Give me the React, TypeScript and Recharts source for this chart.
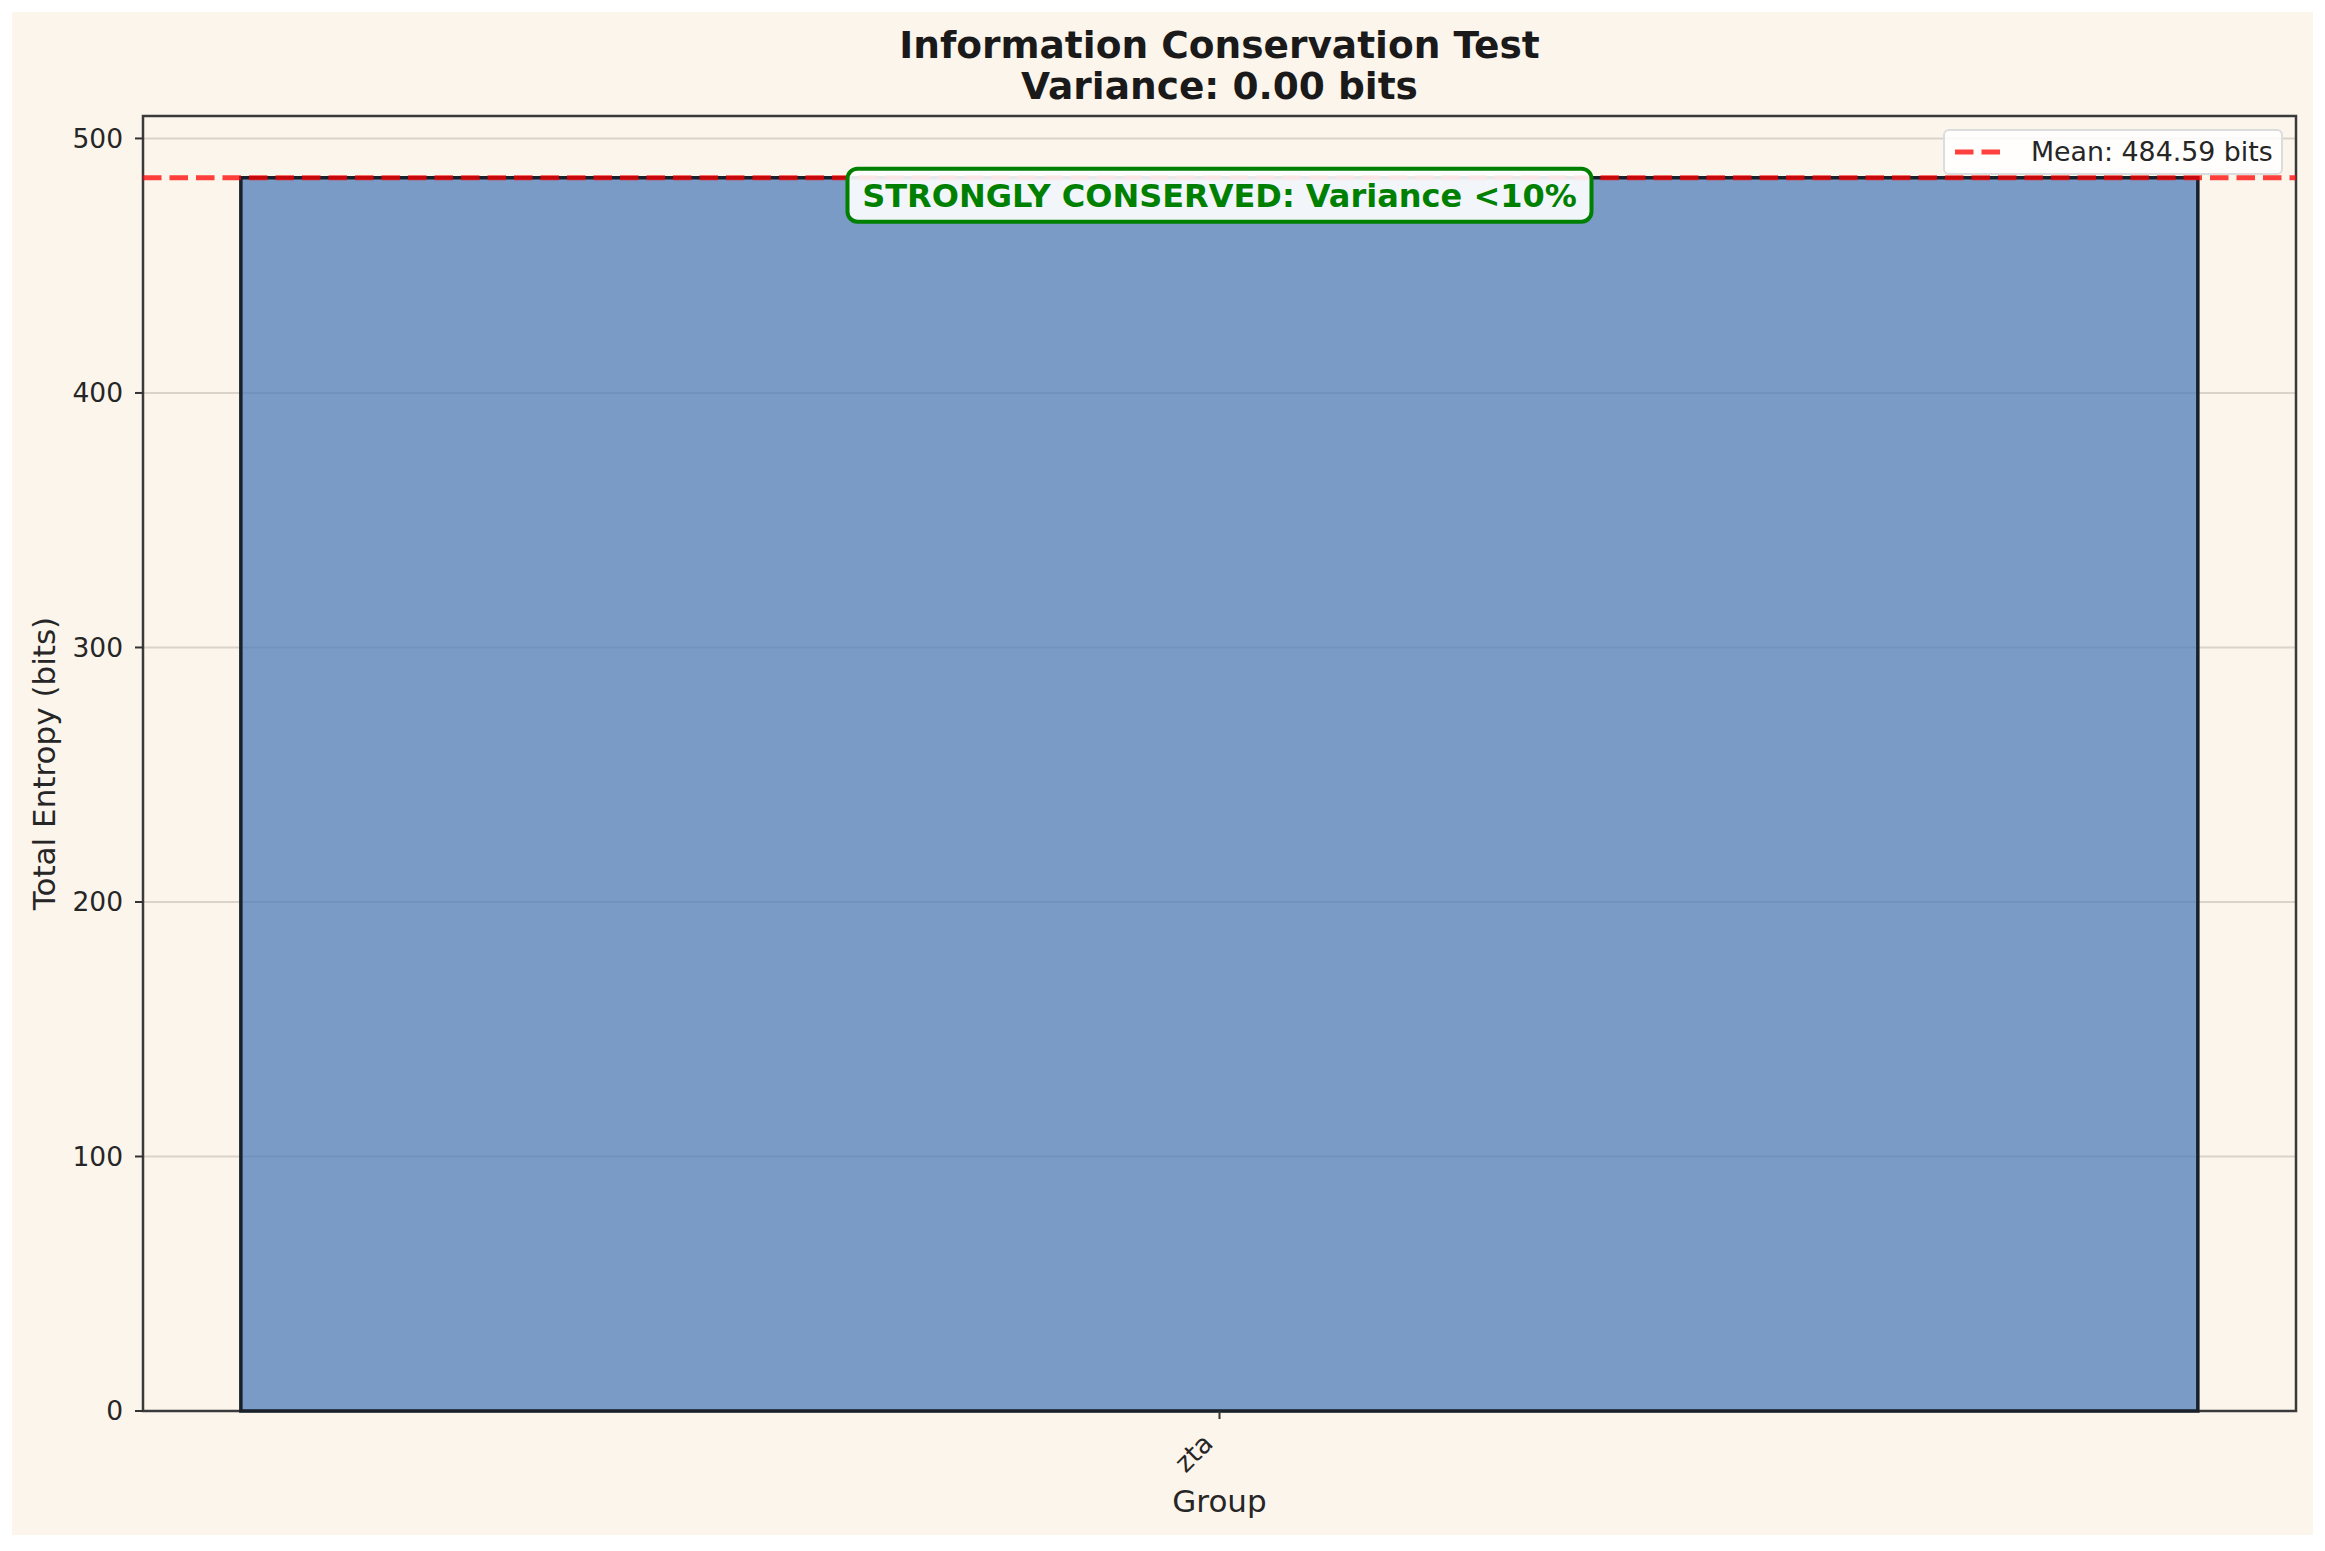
import React from 'react';
import {
  ComposedChart,
  Bar,
  XAxis,
  YAxis,
  CartesianGrid,
  ReferenceLine,
  ReferenceArea,
  Legend,
} from 'recharts';

// values
const groups = ['zta'];
const totalEntropy = [484.59];
const yTicks = [0, 100, 200, 300, 400, 500];

const data = groups.map((g, i) => ({ group: g, entropy: totalEntropy[i] }));
const mean = totalEntropy.reduce((a, b) => a + b, 0) / totalEntropy.length;
const variance =
  totalEntropy.reduce((a, b) => a + (b - mean) * (b - mean), 0) / totalEntropy.length;
const yMax = Math.max(...totalEntropy) * 1.05;

const FONT = '"DejaVu Sans", Verdana, sans-serif';
const INK = '#262626';

function GroupTick({ x, y, payload }: any) {
  const ax = x - 5;
  const ay = y + 24;
  return (
    <text
      x={ax}
      y={ay}
      transform={`rotate(-45, ${ax}, ${ay})`}
      textAnchor="end"
      fontSize={26.5}
      fontFamily={FONT}
      fill={INK}
    >
      {payload.value}
    </text>
  );
}

function ConservedBox({ viewBox }: any) {
  if (!viewBox) return null;
  const cx = viewBox.x + viewBox.width / 2;
  const top = viewBox.y - 9;
  return (
    <g>
      <rect
        x={cx - 372}
        y={top}
        width={744}
        height={53}
        rx={10}
        fill="#ffffff"
        fillOpacity={0.9}
        stroke="#008000"
        strokeWidth={4}
      />
      <text
        x={cx}
        y={top + 26.5}
        dy="0.36em"
        textAnchor="middle"
        fontSize={32}
        fontWeight="bold"
        fontFamily={FONT}
        fill="#008000"
      >
        STRONGLY CONSERVED: Variance &lt;10%
      </text>
    </g>
  );
}

function MeanLegend() {
  return (
    <div
      style={{
        position: 'relative',
        boxSizing: 'border-box',
        width: 340,
        height: 46,
        background: 'rgba(255,255,255,0.85)',
        border: '2px solid #dcdcdc',
        borderRadius: 6,
        fontFamily: FONT,
        fontSize: 26.8,
        color: INK,
      }}
    >
      <svg width={60} height={46} style={{ position: 'absolute', left: 8, top: -2 }}>
        <line
          x1={2}
          y1={23}
          x2={51}
          y2={23}
          stroke="red"
          strokeOpacity={0.75}
          strokeWidth={5}
          strokeDasharray="18.5 8"
        />
      </svg>
      <span style={{ position: 'absolute', left: 86, top: 5, lineHeight: '32px', whiteSpace: 'nowrap' }}>
        Mean: {mean.toFixed(2)} bits
      </span>
    </div>
  );
}

export default function App() {
  return (
    <div style={{ position: 'absolute', left: 0, top: 0, width: 2325, height: 1551, background: '#ffffff' }}>
      <div
        style={{
          position: 'absolute',
          left: 12,
          top: 12,
          width: 2301,
          height: 1523,
          background: '#fcf5ec',
        }}
      />
      <div
        style={{
          position: 'absolute',
          left: 143,
          top: 25,
          width: 2153,
          textAlign: 'center',
          fontFamily: FONT,
          fontWeight: 'bold',
          fontSize: 37.5,
          lineHeight: '40.5px',
          color: '#1a1a1a',
        }}
      >
        <div>Information Conservation Test</div>
        <div>Variance: {variance.toFixed(2)} bits</div>
      </div>
      <div style={{ position: 'absolute', left: 0, top: 0 }}>
        <ComposedChart
          width={2325}
          height={1551}
          data={data}
          margin={{ top: 116, right: 29, bottom: 16, left: 12 }}
          barCategoryGap="4.545%"
        >
          <CartesianGrid vertical={false} stroke="#d9d3ca" strokeWidth={2} />
          <XAxis
            dataKey="group"
            height={124}
            interval={0}
            axisLine={false}
            tickSize={8}
            tickMargin={2}
            tickLine={{ stroke: '#333333', strokeWidth: 2 }}
            tick={<GroupTick />}
            label={{
              value: 'Group',
              position: 'insideBottom',
              offset: 23,
              style: { fontSize: 31, fill: INK, fontFamily: FONT },
            }}
          />
          <YAxis
            width={131}
            domain={[0, yMax]}
            ticks={yTicks}
            axisLine={false}
            tickSize={8}
            tickMargin={12}
            tickLine={{ stroke: '#333333', strokeWidth: 2 }}
            tick={{ fontSize: 26.5, fill: INK, fontFamily: FONT }}
            label={{
              value: 'Total Entropy (bits)',
              angle: -90,
              position: 'insideLeft',
              offset: 32,
              style: { textAnchor: 'middle', fontSize: 31, fill: INK, fontFamily: FONT },
            }}
          />
          <Legend
            layout="horizontal"
            verticalAlign="middle"
            align="center"
            content={<MeanLegend />}
            wrapperStyle={{ left: 1943, top: 129, width: 340, height: 46 }}
          />
          <Bar
            dataKey="entropy"
            name="Total Entropy"
            fill="#4878b7"
            fillOpacity={0.72}
            stroke="#18202a"
            strokeWidth={3.5}
            isAnimationActive={false}
          />
          <ReferenceLine
            y={mean}
            stroke="red"
            strokeOpacity={0.75}
            strokeWidth={5}
            strokeDasharray="18.5 8"
            label={<ConservedBox />}
          />
          <ReferenceArea
            y1={0}
            y2={yMax}
            fill="none"
            stroke="#3a3a3a"
            strokeWidth={2.5}
            ifOverflow="visible"
          />
        </ComposedChart>
      </div>
    </div>
  );
}
